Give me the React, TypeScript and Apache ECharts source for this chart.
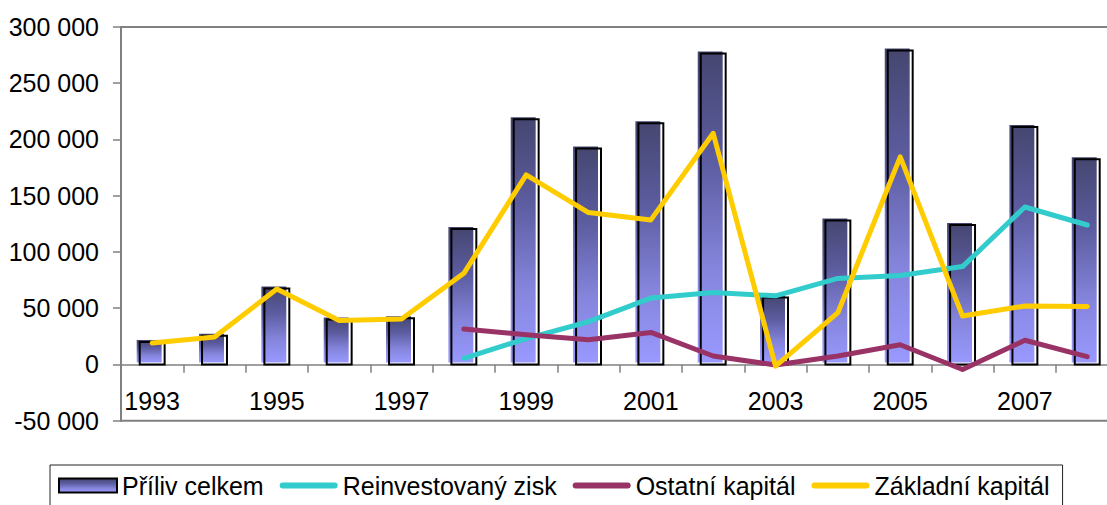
import React, { useEffect, useRef } from "react";
import * as echarts from "echarts";

const years = ["1993", "1994", "1995", "1996", "1997", "1998", "1999", "2000", "2001", "2002", "2003", "2004", "2005", "2006", "2007", "2008"];
const prilivCelkem = [20000, 25500, 67500, 40000, 41000, 120500, 218000, 192000, 214500, 276500, 59500, 128000, 279000, 124000, 211000, 182500];
const reinvestovanyZisk = [null, null, null, null, null, 5500, 23000, 38000, 59000, 64000, 61000, 76500, 79000, 87000, 140000, 124000];
const ostatniKapital = [null, null, null, null, null, 31500, 26500, 22000, 28500, 7500, -500, 7500, 17500, -4500, 21500, 7000];
const zakladniKapital = [19000, 24500, 67000, 39000, 40500, 81000, 168500, 135000, 128500, 205500, -1500, 46000, 184500, 43000, 52000, 51500];

const FONT = "'Liberation Sans', Arial, sans-serif";
const LINE_ICON = "path://M0,0 M58,14 M3,4 L55,4 A3,3 0 0 1 55,10 L3,10 A3,3 0 0 1 3,4 Z";

function barGradient() {
  return new echarts.graphic.LinearGradient(0, 0, 0, 1, [
    { offset: 0, color: "#45466f" },
    { offset: 0.35, color: "#5c5ca0" },
    { offset: 0.7, color: "#8585dd" },
    { offset: 1, color: "#9999ff" },
  ]);
}

function fmt(v: number) {
  if (v === 0) return "0";
  const s = String(Math.abs(v)).replace(/\B(?=(\d{3})+(?!\d))/g, " ");
  return (v < 0 ? "-" : "") + s;
}

export default function App() {
  const ref = useRef<HTMLDivElement>(null);
  useEffect(() => {
    if (!ref.current) return;
    const chart = echarts.init(ref.current, null, { renderer: "svg" });
    const barData = prilivCelkem.map((v, i) => [i, v]);
    chart.setOption({
      animation: false,
      textStyle: { fontFamily: FONT },
      grid: {
        left: 121,
        top: 27,
        right: 11.6,
        bottom: 84.3,
        show: true,
        borderColor: "#808080",
        borderWidth: 2,
        backgroundColor: "transparent",
      },
      legend: {
        left: 50,
        top: 465,
        orient: "horizontal",
        itemWidth: 58,
        itemHeight: 14,
        itemGap: 16,
        padding: [8, 13, 30, 8],
        borderColor: "#222",
        borderWidth: 1,
        textStyle: { fontSize: 25, color: "#000", fontFamily: FONT },
        data: [
          {
            name: "Příliv celkem",
            icon: "rect",
            itemStyle: { color: barGradient(), borderColor: "#000", borderWidth: 2 },
          },
          { name: "Reinvestovaný zisk", icon: LINE_ICON, itemStyle: { color: "#33cccc", borderWidth: 0 } },
          { name: "Ostatní kapitál", icon: LINE_ICON, itemStyle: { color: "#993366", borderWidth: 0 } },
          { name: "Základní kapitál", icon: LINE_ICON, itemStyle: { color: "#ffcc00", borderWidth: 0 } },
        ],
      },
      xAxis: {
        type: "category",
        data: years,
        boundaryGap: true,
        offset: -56,
        axisLine: { show: true, onZero: false, lineStyle: { color: "#808080", width: 1.5 } },
        axisTick: { show: true, interval: 0, length: 8, lineStyle: { color: "#808080", width: 1.5 } },
        axisLabel: { interval: 1, margin: 24, fontSize: 25, color: "#000", fontFamily: FONT },
        splitLine: { show: false },
      },
      yAxis: {
        type: "value",
        min: -50000,
        max: 300000,
        interval: 50000,
        axisLine: { show: true, lineStyle: { color: "#808080", width: 2 } },
        axisTick: { show: true, length: 8, lineStyle: { color: "#808080", width: 1.5 } },
        axisLabel: { margin: 22, fontSize: 25, color: "#000", fontFamily: FONT, formatter: (v: number) => fmt(v) },
        splitLine: { show: false },
      },
      series: [
        {
          name: "Příliv celkem",
          type: "custom",
          itemStyle: { color: barGradient(), borderColor: "#000", borderWidth: 2 },
          encode: { x: 0, y: 1 },
          data: barData,
          z: 2,
          renderItem: (params: any, api: any) => {
            const idx = api.value(0);
            const v = api.value(1);
            const p = api.coord([idx, v]);
            const b = api.coord([idx, 0]);
            const bw = api.size([1, 0])[0] * 0.4;
            const x0 = p[0] - bw / 2;
            const h = b[1] - p[1];
            return {
              type: "group",
              children: [
                {
                  type: "rect",
                  shape: { x: x0 - 3, y: p[1] - 2, width: bw, height: h },
                  style: { fill: barGradient() },
                },
                {
                  type: "rect",
                  shape: { x: x0, y: p[1], width: bw, height: h },
                  style: { fill: "none", stroke: "#000", lineWidth: 2 },
                },
              ],
            };
          },
        },
        {
          name: "Reinvestovaný zisk",
          type: "line",
          data: reinvestovanyZisk,
          symbol: "none",
          connectNulls: false,
          z: 3,
          itemStyle: { color: "#33cccc" },
          lineStyle: { color: "#33cccc", width: 5, cap: "round", join: "round" },
        },
        {
          name: "Ostatní kapitál",
          type: "line",
          data: ostatniKapital,
          symbol: "none",
          z: 4,
          itemStyle: { color: "#993366" },
          lineStyle: { color: "#993366", width: 5, cap: "round", join: "round" },
        },
        {
          name: "Základní kapitál",
          type: "line",
          data: zakladniKapital,
          symbol: "none",
          z: 5,
          itemStyle: { color: "#ffcc00" },
          lineStyle: { color: "#ffcc00", width: 5, cap: "round", join: "round" },
        },
      ],
    });
    return () => chart.dispose();
  }, []);
  return (
    <div style={{ position: "fixed", left: 0, top: 0, width: 1107, height: 505, overflow: "hidden", background: "#fff" }}>
      <div ref={ref} style={{ width: 1130, height: 505 }} />
    </div>
  );
}
